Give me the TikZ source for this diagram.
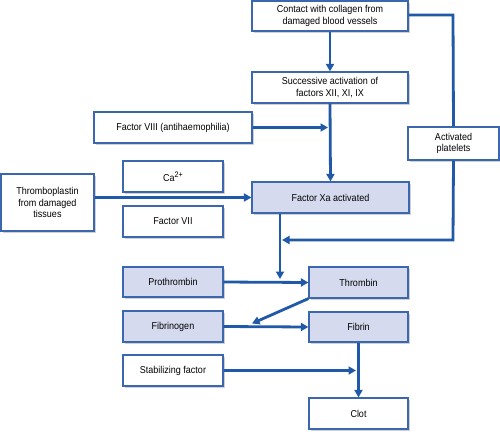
\documentclass[tikz,border=0pt]{standalone}
\usepackage{fontspec}
\setmainfont{Liberation Sans}[FakeStretch=0.9]
\usetikzlibrary{arrows.meta,shadows,calc}
\definecolor{lineblue}{HTML}{1F59A8}
\definecolor{boxblue}{HTML}{3A67AE}
\definecolor{boxfill}{HTML}{D6DAEE}
\tikzset{
  box/.style={draw=boxblue, line width=1.2pt, fill=white, align=center, inner sep=0pt,
    font=\fontsize{10}{11.5}\selectfont,
    drop shadow={shadow xshift=1.5pt, shadow yshift=-1.5pt, fill=black!30, opacity=0.6}},
  fbox/.style={box, fill=boxfill},
  conn/.style={draw=lineblue, line width=2.8pt},
  arr/.style={conn, -{Triangle[length=7.5pt,width=8pt]}},
}
\begin{document}
\begin{tikzpicture}[x=1pt,y=-1pt]
\useasboundingbox (0,0) rectangle (500,431);
\node[box, minimum width=156pt, minimum height=30pt] (c1) at (330,16) {Contact with collagen from\\damaged blood vessels};
\node[box, minimum width=156pt, minimum height=31pt] (c2) at (330,87.5) {Successive activation of\\factors XII, XI, IX};
\node[box, minimum width=158pt, minimum height=31pt] (f8) at (173,127.5) {Factor VIII (antihaemophilia)};
\node[box, minimum width=91pt, minimum height=33pt] (plat) at (453.5,143.5) {Activated\\platelets};
\node[box, minimum width=100pt, minimum height=31pt] (ca) at (173,176.5) {Ca\raisebox{0.75ex}{\fontsize{8}{8}\selectfont 2+}};
\node[box, minimum width=100pt, minimum height=31pt] (f7) at (173,221.5) {Factor VII};
\node[box, minimum width=93pt, minimum height=57pt] (thr) at (47.5,202.5) {Thromboplastin\\from damaged\\tissues};
\node[fbox, minimum width=157pt, minimum height=31pt] (xa) at (330.5,197.5) {Factor Xa activated};
\node[fbox, minimum width=100pt, minimum height=30pt] (pro) at (173,282) {Prothrombin};
\node[fbox, minimum width=99pt, minimum height=31pt] (thb) at (358.5,282.5) {Thrombin};
\node[fbox, minimum width=100pt, minimum height=31pt] (fgn) at (173,326.5) {Fibrinogen};
\node[fbox, minimum width=99pt, minimum height=30pt] (fbn) at (358.5,327) {Fibrin};
\node[box, minimum width=100pt, minimum height=31pt] (stab) at (173,370.5) {Stabilizing factor};
\node[box, minimum width=99pt, minimum height=31pt] (clot) at (358.5,413.5) {Clot};

\coordinate (f8end) at (328,127.5);
\coordinate (platend) at (282,240);
\coordinate (xaend) at (280,279);
\coordinate (thbend) at (252,323.5);
\coordinate (stabend) at (356,370.5);

\draw[arr] (c1.south) -- (c2.north);
\draw[conn] ($(c1.east)+(0,-1)$) -- (453,15) -- (plat.north);
\draw[arr] (plat.south) -- (453,240) -- (platend);
\draw[arr] (c2.south) -- (xa.north);
\draw[arr] (f8.east) -- (f8end);
\draw[arr] (thr.east |- xa.west) -- (xa.west);
\draw[arr] (xa.south -| xaend) -- (xaend);
\draw[arr] (pro.east) -- (thb.west);
\draw[arr] (thb.south west) -- (thbend);
\draw[arr] (fgn.east) -- (fbn.west);
\draw[arr] (fbn.south) -- (clot.north);
\draw[arr] (stab.east) -- (stabend);
\end{tikzpicture}
\end{document}
